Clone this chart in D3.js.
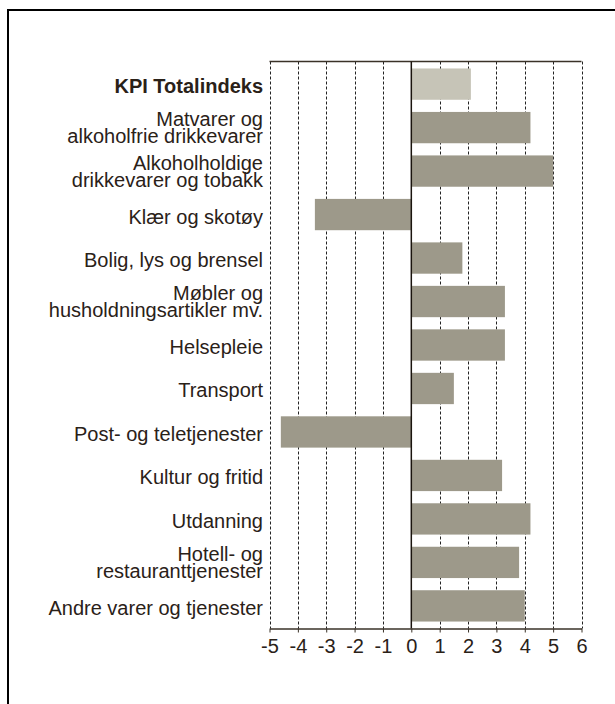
<!DOCTYPE html>
<html>
<head>
<meta charset="utf-8">
<script src="https://cdn.jsdelivr.net/npm/d3@7"></script>
<style>
  html, body { margin: 0; padding: 0; background: #fff; }
  svg { display: block; font-family: "Liberation Sans", Arial, sans-serif; }
</style>
</head>
<body>
<svg id="chart" width="615" height="704"></svg>
<script>
// Categories (top to bottom), "\n" marks a line break in the label
const categories = [
  "KPI Totalindeks",
  "Matvarer og\nalkoholfrie drikkevarer",
  "Alkoholholdige\ndrikkevarer og tobakk",
  "Klær og skotøy",
  "Bolig, lys og brensel",
  "Møbler og\nhusholdningsartikler mv.",
  "Helsepleie",
  "Transport",
  "Post- og teletjenester",
  "Kultur og fritid",
  "Utdanning",
  "Hotell- og\nrestauranttjenester",
  "Andre varer og tjenester"
]

const values = [2.1, 4.2, 5.0, -3.4, 1.8, 3.3, 3.3, 1.5, -4.6, 3.2, 4.2, 3.8, 4.0]

const xTicks = [-5, -4, -3, -2, -1, 0, 1, 2, 3, 4, 5, 6]

const data = categories.map((c, i) => ({ label: c, value: values[i] }))

const textColor = "#2a2118"
const barColor = "#9d998a"
const totalColor = "#c6c4b7"

const svg = d3.select("#chart")

// Outer frame (only left and top edges fall inside the picture)
svg.append("rect")
  .attr("x", 8).attr("y", 10)
  .attr("width", 640).attr("height", 720)
  .attr("fill", "none")
  .attr("stroke", "#000")
  .attr("stroke-width", 2)

const plotLeft = 269.5, plotRight = 581.5, plotTop = 61.5, plotBottom = 628.5

const x = d3.scaleLinear().domain([-5, 6]).range([plotLeft, plotRight])
const y = d3.scaleBand()
  .domain(categories)
  .range([plotTop, plotBottom])
  .paddingInner(0.28)
  .paddingOuter(0.16)

// Dotted gridlines
svg.append("g")
  .selectAll("line")
  .data(xTicks.filter(d => d !== 0))
  .enter()
  .append("line")
  .attr("x1", d => Math.round(x(d)) + 0.5)
  .attr("x2", d => Math.round(x(d)) + 0.5)
  .attr("y1", plotTop)
  .attr("y2", plotBottom)
  .attr("stroke", "#222")
  .attr("stroke-width", 1)
  .attr("stroke-dasharray", "3,2")

// Bars
svg.append("g")
  .selectAll("rect")
  .data(data)
  .enter()
  .append("rect")
  .attr("x", d => x(Math.min(0, d.value)))
  .attr("y", d => y(d.label))
  .attr("width", d => Math.abs(x(d.value) - x(0)))
  .attr("height", y.bandwidth())
  .attr("fill", (d, i) => i === 0 ? totalColor : barColor)

// Top border line
svg.append("line")
  .attr("x1", plotLeft).attr("x2", plotRight)
  .attr("y1", plotTop).attr("y2", plotTop)
  .attr("stroke", "#3a3228").attr("stroke-width", 1.5)

// Zero line
svg.append("line")
  .attr("x1", x(0)).attr("x2", x(0))
  .attr("y1", plotTop).attr("y2", plotBottom)
  .attr("stroke", "#1a140e").attr("stroke-width", 1.5)

// Bottom axis
const xAxis = svg.append("g")
  .attr("transform", `translate(0,${plotBottom})`)
  .call(d3.axisBottom(x).tickValues(xTicks).tickSize(4).tickSizeOuter(0).tickPadding(6))

xAxis.select(".domain").attr("stroke", "#3a3228").attr("stroke-width", 1.5)
xAxis.selectAll(".tick line").attr("stroke", "#3a3228")
xAxis.selectAll(".tick text")
  .attr("fill", textColor)
  .attr("font-size", 20)
  .attr("dy", "0.73em")
  .attr("font-family", "Liberation Sans, Arial, sans-serif")
  .text(d => d < 0 ? "-" + Math.abs(d) : d)

// Category labels
const labels = svg.append("g")
  .selectAll("text")
  .data(data)
  .enter()
  .append("text")
  .attr("x", 263)
  .attr("text-anchor", "end")
  .attr("fill", textColor)
  .attr("font-size", 20)
  .attr("font-weight", (d, i) => i === 0 ? "bold" : "normal")

labels.each(function (d) {
  const lines = d.label.split("\n")
  const cy = y(d.label) + y.bandwidth() / 2
  const t = d3.select(this)
  if (lines.length === 1) {
    t.append("tspan").attr("x", 263).attr("y", cy + 9).text(lines[0])
  } else {
    t.append("tspan").attr("x", 263).attr("y", cy - 1.5).text(lines[0])
    t.append("tspan").attr("x", 263).attr("y", cy + 15.5).text(lines[1])
  }
})
</script>
</body>
</html>
